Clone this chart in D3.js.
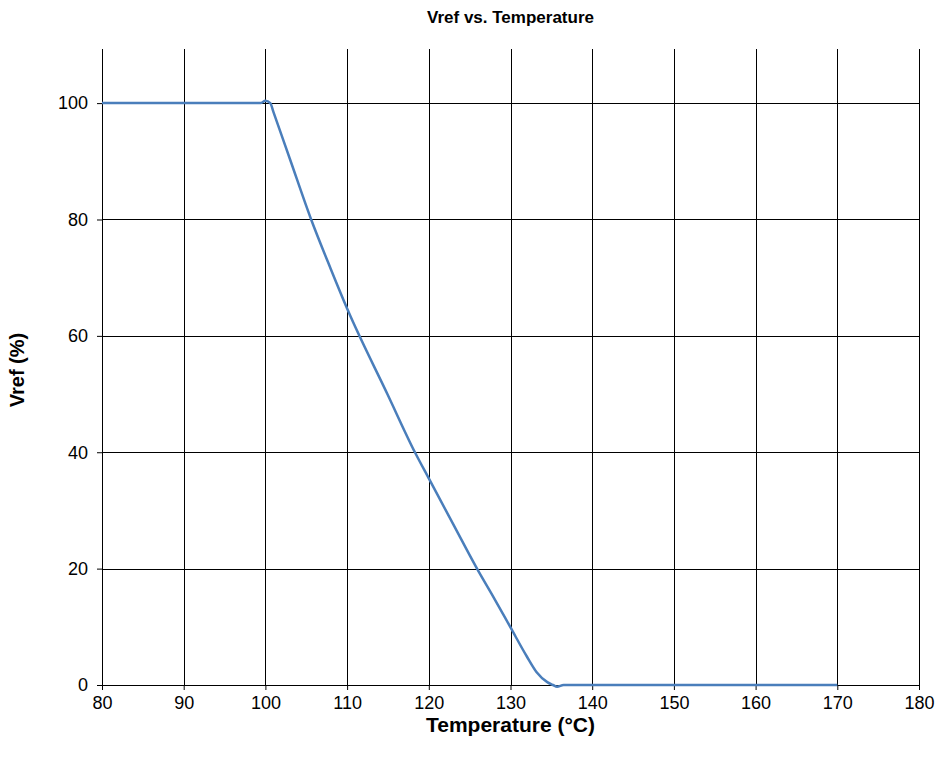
<!DOCTYPE html>
<html>
<head>
<meta charset="utf-8">
<script src="https://cdn.jsdelivr.net/npm/d3@7"></script>
<style>
  body { margin: 0; background: #fff; }
  text { font-family: 'Liberation Sans', Arial, sans-serif; }
</style>
</head>
<body>
<div id="chart"></div>
<script>
// temperature (°C) and Vref (%)
let temps = [80, 90, 99.4, 100, 100.6, 101, 103, 105.6, 108, 110, 115, 118.3, 120, 123, 125.9, 128, 130, 132, 133.2, 134.5, 135.2, 135.7, 136.5, 140, 150, 160, 170]
let vref = [100, 100, 100, 100.4, 100, 98.4, 90.4, 80, 71.5, 64.7, 49.8, 40, 35.5, 27.6, 20, 14.9, 9.9, 4.9, 2.2, 0.5, 0, -0.3, 0, 0, 0, 0, 0]

let xTicks = [80, 90, 100, 110, 120, 130, 140, 150, 160, 170, 180]
let yTicks = [0, 20, 40, 60, 80, 100]
let yMax = 109.3

let margin = { top: 49, left: 102, right: 19, bottom: 81 }
let width = 938 - margin.left - margin.right
let height = 766 - margin.top - margin.bottom

let svg = d3
  .select('#chart')
  .append('svg')
  .attr('width', 938)
  .attr('height', 766)

let g = svg.append('g')
  .attr('transform', 'translate(' + margin.left + ',' + margin.top + ')')

let xScale = d3.scaleLinear().domain([80, 180]).range([0, width])
let yScale = d3.scaleLinear().domain([0, yMax]).range([height, 0])

let points = temps.map((t, i) => ({ t: t, v: vref[i] }))

// vertical gridlines
g.selectAll('.vgrid')
  .data(xTicks)
  .enter()
  .append('line')
  .attr('class', 'vgrid')
  .attr('x1', d => Math.round(xScale(d)) + 0.5)
  .attr('x2', d => Math.round(xScale(d)) + 0.5)
  .attr('y1', 0)
  .attr('y2', height)
  .attr('stroke', '#000')
  .attr('stroke-width', 1)

// horizontal gridlines
g.selectAll('.hgrid')
  .data(yTicks)
  .enter()
  .append('line')
  .attr('class', 'hgrid')
  .attr('x1', 0)
  .attr('x2', width)
  .attr('y1', d => Math.round(yScale(d)) + 0.5)
  .attr('y2', d => Math.round(yScale(d)) + 0.5)
  .attr('stroke', '#000')
  .attr('stroke-width', 1)

let xAxis = d3.axisBottom(xScale).tickValues(xTicks).tickSize(5).tickPadding(6)
let yAxis = d3.axisLeft(yScale).tickValues(yTicks).tickSize(5).tickPadding(9)

g.append('g')
  .attr('transform', 'translate(0,' + (Math.round(height)) + ')')
  .call(xAxis)
  .call(a => a.select('.domain').remove())
  .selectAll('text')
  .attr('font-size', 18)
  .attr('fill', '#000')

g.append('g')
  .call(yAxis)
  .call(a => a.select('.domain').remove())
  .selectAll('text')
  .attr('font-size', 18)
  .attr('fill', '#000')

g.selectAll('.tick line').attr('stroke', '#000')

let line = d3.line()
  .x(d => xScale(d.t))
  .y(d => yScale(d.v))
  .curve(d3.curveMonotoneX)

g.append('path')
  .datum(points)
  .attr('d', line)
  .attr('fill', 'none')
  .attr('stroke', '#4a7ebb')
  .attr('stroke-width', 2.5)

// titles
svg.append('text')
  .text('Vref vs. Temperature')
  .attr('x', margin.left + width / 2)
  .attr('y', 23)
  .attr('text-anchor', 'middle')
  .attr('font-size', 17)
  .attr('font-weight', 'bold')

svg.append('text')
  .text('Temperature (°C)')
  .attr('x', margin.left + width / 2)
  .attr('y', 732)
  .attr('text-anchor', 'middle')
  .attr('font-size', 21)
  .attr('font-weight', 'bold')

svg.append('text')
  .text('Vref (%)')
  .attr('transform', 'translate(24,' + (margin.top + height / 2 + 3) + ') rotate(-90)')
  .attr('text-anchor', 'middle')
  .attr('font-size', 20)
  .attr('font-weight', 'bold')
</script>
</body>
</html>
